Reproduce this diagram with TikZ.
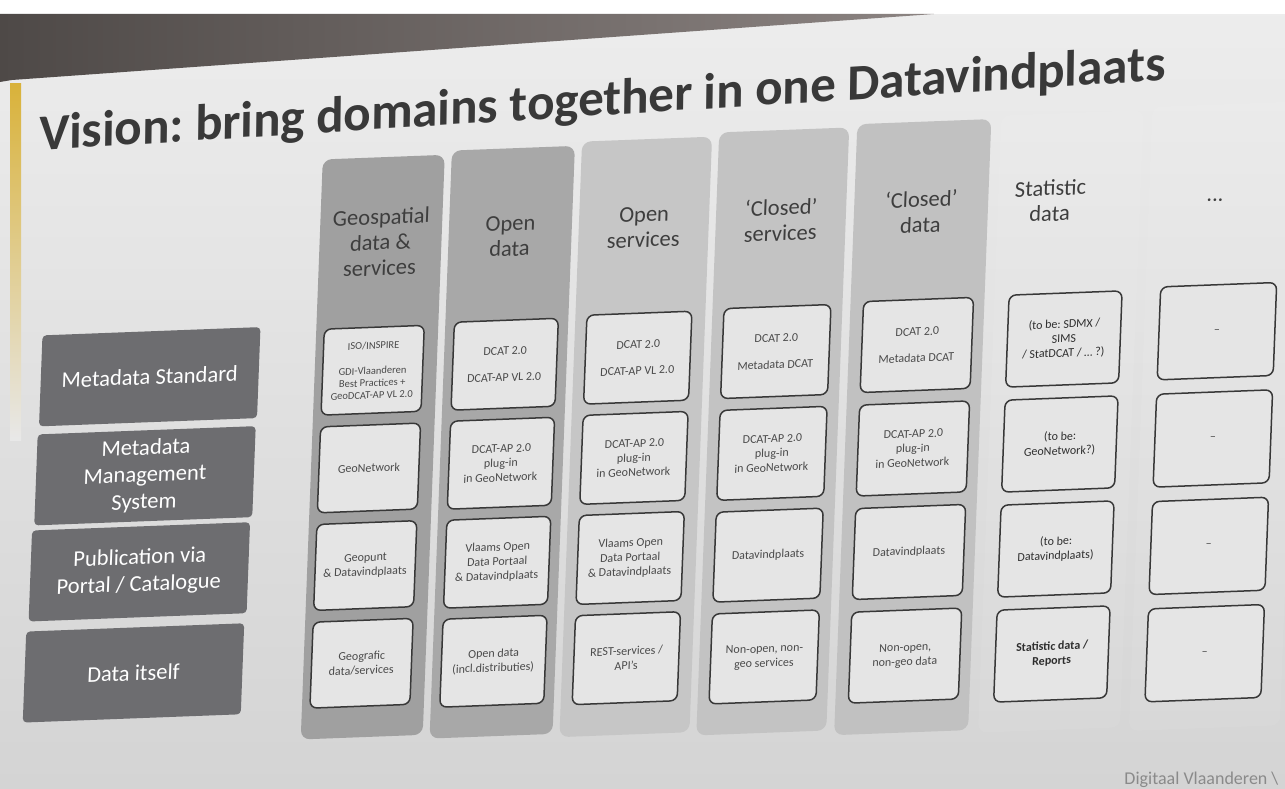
\documentclass[tikz,border=0pt]{standalone}
\usepackage{fontspec}
\setmainfont{Carlito}
\definecolor{bgtop}{HTML}{EDEDED}
\definecolor{bgbot}{HTML}{D4D4D4}
\definecolor{bandA}{HTML}{4E4947}
\definecolor{bandB}{HTML}{8C8482}
\definecolor{stripe}{HTML}{D9B23A}
\definecolor{colA}{HTML}{A0A0A0}
\definecolor{colB}{HTML}{A8A8A8}
\definecolor{colC}{HTML}{C6C6C6}
\definecolor{colD}{HTML}{C3C3C3}
\definecolor{colE}{HTML}{C1C1C1}
\definecolor{cellfill}{HTML}{E5E5E5}
\definecolor{cellline}{HTML}{383838}
\definecolor{celltext}{HTML}{4A4A4A}
\definecolor{celldark}{HTML}{2E2E2E}
\definecolor{headtext}{HTML}{3E3E3E}
\definecolor{titletext}{HTML}{393939}
\definecolor{labelfill}{HTML}{6D6D70}
\definecolor{footc}{HTML}{8A8A8A}
\begin{document}
\frenchspacing
\begin{tikzpicture}[x=1pt,y=-1pt,
  colbg/.style={rounded corners=9pt, inner sep=0pt, draw=none},
  cell/.style={draw=cellline, line width=1.5pt, fill=cellfill, rounded corners=7pt,
    align=center, text=celltext, inner sep=1pt, font=\fontsize{12}{14.5}\selectfont},
  k1/.style={cell, minimum width=100pt, minimum height=86pt},
  k2/.style={cell, minimum width=104pt, minimum height=88pt},
  k3/.style={cell, minimum width=105pt, minimum height=89pt},
  k4/.style={cell, minimum width=107pt, minimum height=90pt},
  k5/.style={cell, minimum width=110pt, minimum height=91pt},
  k6/.style={cell, minimum width=113pt, minimum height=92pt, text=celldark},
  k7/.style={cell, minimum width=116pt, minimum height=93pt},
  rowlabel/.style={fill=labelfill, rounded corners=4pt, text=white, align=center,
    font=\fontsize{22.5}{27}\selectfont, minimum width=218pt, minimum height=91pt, inner sep=0pt},
  header/.style={align=center, text=headtext, font=\fontsize{22.5}{25.5}\selectfont}
]
\useasboundingbox (0,0) rectangle (1285,789);
% photo surroundings
\shade[top color=bgtop, bottom color=bgbot] (0,0) rectangle (1285,789);
\fill[white] (0,0) rectangle (1285,14);
\shade[left color=bandA, right color=bandB] (0,14) -- (934,14) -- (12,80) -- (0,82) -- cycle;
\shade[top color=stripe, bottom color=bgtop!80!bgbot] (10,84) rectangle (21,440);
\node[anchor=base east, font=\fontsize{18}{18}\selectfont, text=footc] (footer) at (1282,784) {Digitaal Vlaanderen \textbackslash};

\begin{scope}[cm={1,0.038,0.038,1,(16.34pt,-24.32pt)}, transform shape]
% title
\node[anchor=base, font=\fontsize{51}{60}\selectfont\bfseries, text=titletext, rotate=1.4]
  (title) at (590,113.5) {Vision: bring domains together in one Datavindplaats};

% column backgrounds (top, bottom follow the photo's perspective)
\draw[colbg, fill=colA] (312,147) rectangle (434,727);
\draw[colbg, fill=colB] (441,143) rectangle (564,731);
\draw[colbg, fill=colC] (571,139) rectangle (701,734.5);
\draw[colbg, fill=colD] (708,135) rectangle (838,738);
\draw[colbg, fill=colE] (846,132) rectangle (980,743);
\draw[colbg, fill=white, fill opacity=0.07] (990,129) rectangle (1132,746);
\draw[colbg, fill=white, fill opacity=0.07] (1141,126) rectangle (1292,750);

% headers
\node[header] (h1) at (373,232) {Geospatial\\data \&\\services};
\node[header] (h2) at (502.5,231) {Open\\data};
\node[header] (h3) at (636,227) {Open\\services};
\node[header] (h4) at (773,225) {‘Closed’\\services};
\node[header] (h5) at (913,222) {‘Closed’\\data};
\node[header] (h6) at (1042,216) {Statistic\\data};
\node[header] (h7) at (1207,222) {...};

% row labels
\node[rowlabel] (l1) at (147,358) {Metadata Standard};
\node[rowlabel] (l2) at (146,457) {Metadata\\Management\\System};
\node[rowlabel] (l3) at (144,553) {Publication via\\Portal / Catalogue};
\node[rowlabel] (l4) at (142,654) {Data itself};

% row 1: metadata standard
\node[k1, font=\fontsize{10.5}{12.2}\selectfont] (c11) at (370,360) {ISO/INSPIRE\\[13pt]GDI-Vlaanderen\\Best Practices +\\GeoDCAT-AP VL 2.0};
\node[k2] (c12) at (502,359) {DCAT 2.0\\[12pt]DCAT-AP VL 2.0};
\node[k3] (c13) at (635,357.5) {DCAT 2.0\\[12pt]DCAT-AP VL 2.0};
\node[k4] (c14) at (773,356.6) {DCAT 2.0\\[12pt]Metadata DCAT};
\node[k5] (c15) at (914,355.4) {DCAT 2.0\\[12pt]Metadata DCAT};
\node[k6] (c16) at (1061,355) {(to be: SDMX /\\SIMS\\/ StatDCAT / … ?)};
\node[k7] (c17) at (1214,353) {–};

% row 2: management system
\node[k1] (c21) at (370,457.7) {GeoNetwork};
\node[k2] (c22) at (502,458) {DCAT-AP 2.0\\plug-in\\in GeoNetwork};
\node[k3] (c23) at (635,457.7) {DCAT-AP 2.0\\plug-in\\in GeoNetwork};
\node[k4] (c24) at (773,458.4) {DCAT-AP 2.0\\plug-in\\in GeoNetwork};
\node[k5] (c25) at (914,458.9) {DCAT-AP 2.0\\plug-in\\in GeoNetwork};
\node[k6] (c26) at (1061,460) {(to be:\\GeoNetwork?)};
\node[k7] (c27) at (1214,460.3) {–};

% row 3: publication
\node[k1] (c31) at (370,555.3) {Geopunt\\\& Datavindplaats};
\node[k2] (c32) at (502,557) {Vlaams Open\\Data Portaal\\\& Datavindplaats};
\node[k3] (c33) at (635,557.8) {Vlaams Open\\Data Portaal\\\& Datavindplaats};
\node[k4] (c34) at (773,560.2) {Datavindplaats};
\node[k5] (c35) at (914,562.4) {Datavindplaats};
\node[k6] (c36) at (1061,565) {(to be:\\Datavindplaats)};
\node[k7] (c37) at (1214,567.7) {–};

% row 4: data itself
\node[k1] (c41) at (370,653) {Geografic\\data/services};
\node[k2] (c42) at (502,656) {Open data\\(incl.distributies)};
\node[k3] (c43) at (635,658) {REST-services /\\API’s};
\node[k4] (c44) at (773,662) {Non-open, non-\\geo services};
\node[k5] (c45) at (914,666) {Non-open,\\non-geo data};
\node[k6, font=\fontsize{12}{14.5}\selectfont\bfseries] (c46) at (1061,670) {Statistic data /\\Reports};
\node[k7] (c47) at (1214,675) {–};
\end{scope}
\end{tikzpicture}
\end{document}
